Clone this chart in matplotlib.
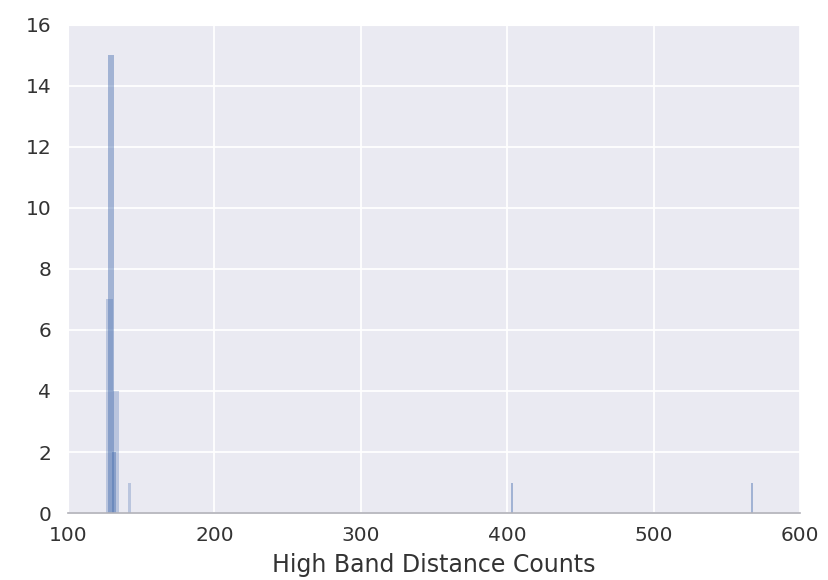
import matplotlib.pyplot as plt

# histogram pieces (bin centre, width, count)
layer1_centres = [128.6, 133.0, 142.0]
layer1_widths = [4.6, 4.0, 2.2]
layer1_counts = [7, 4, 1]

layer2_centres = [129.3, 131.6, 403.5, 567.0]
layer2_widths = [4.2, 2.6, 1.3, 1.3]
layer2_counts = [15, 2, 1, 1]

bar_color = '#4C72B0'
text_color = '#333333'

fig = plt.figure(figsize=(8.29, 5.8), dpi=100)
ax = fig.add_axes([0.082, 0.1155, 0.883, 0.8415])
ax.set_facecolor('#EAEAF2')

ax.bar(layer1_centres, layer1_counts, width=layer1_widths, color=bar_color,
       alpha=0.3, linewidth=0, zorder=2)
ax.bar(layer2_centres, layer2_counts, width=layer2_widths, color=bar_color,
       alpha=0.45, linewidth=0, zorder=2)

ax.set_xlim(100, 600)
ax.set_ylim(0, 16)
ax.set_xticks(range(100, 601, 100))
ax.set_yticks(range(0, 17, 2))

ax.grid(True, color='white', linewidth=1.3, zorder=0)
ax.set_axisbelow(True)
for side in ['top', 'right', 'left']:
    ax.spines[side].set_color('white')
ax.spines['bottom'].set_color('#B0B0B8')
ax.spines['bottom'].set_linewidth(1.2)

ax.tick_params(axis='both', length=0, labelsize=14.5, colors=text_color)
ax.tick_params(axis='y', pad=12)
ax.tick_params(axis='x', pad=9)
# the reference clips this label at the bottom edge; keep it just inside
ax.set_xlabel('High Band Distance Counts', fontsize=17, color=text_color, labelpad=6)

fig.savefig('out.png', dpi=100)
